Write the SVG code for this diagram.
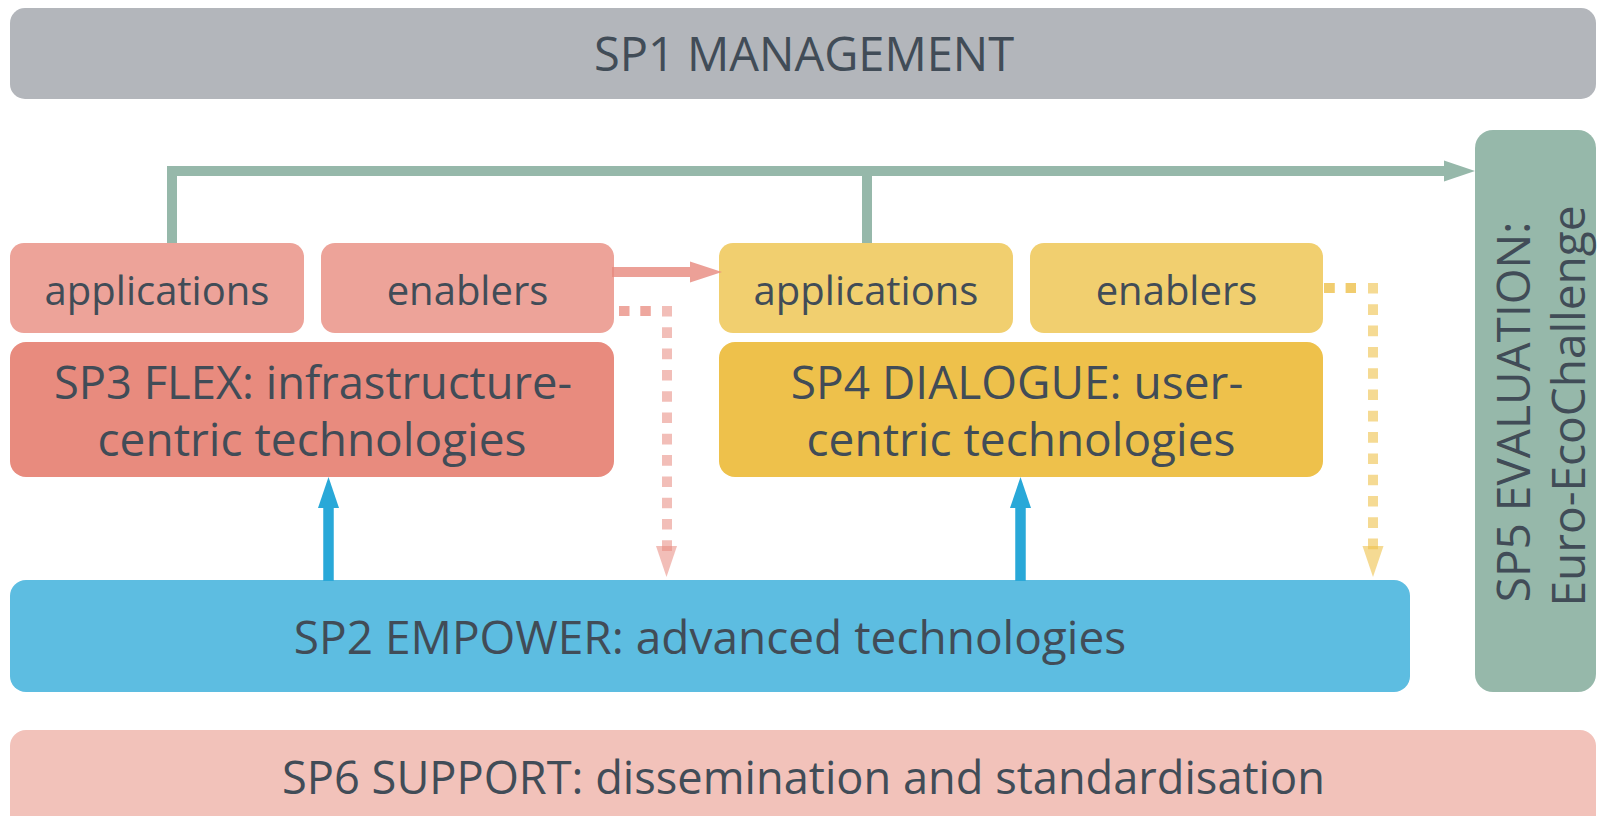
<svg xmlns="http://www.w3.org/2000/svg" width="1597" height="816" viewBox="0 0 1597 816">
<style>
text{font-family:"Open Sans","Noto Sans","DejaVu Sans",sans-serif;fill:#414c57;text-anchor:middle}
.big{font-size:46px}
.lbl{font-size:40px}
.pinkL{fill:#eda399}
.yelL{fill:#f1cf6f}
.green{stroke:#96b8aa;stroke-width:10;fill:none}
.blue{stroke:#29a8d8;stroke-width:10.5;fill:none}
.blueH{fill:#29a8d8}
</style>
<rect width="1597" height="816" fill="#ffffff"/>
<g id="sp1">
<rect x="10" y="8" width="1586" height="91" rx="15" fill="#b3b6bb"/>
<text class="big" x="804" y="71" style="font-size:47px">SP1 MANAGEMENT</text>
</g>
<g id="sp3-applications">
<rect class="pinkL" x="10" y="243" width="294" height="90" rx="14"/>
<text class="lbl" x="157" y="305">applications</text>
</g>
<g id="sp3-enablers">
<rect class="pinkL" x="321" y="243" width="293" height="90" rx="14"/>
<text class="lbl" x="467.5" y="305">enablers</text>
</g>
<g id="sp3">
<rect x="10" y="342" width="604" height="135" rx="16" fill="#e88b7e"/>
<text class="big" x="313" y="399" style="font-size:45.3px">SP3 FLEX: infrastructure-</text>
<text class="big" x="312" y="456">centric technologies</text>
</g>
<g id="sp4-applications">
<rect class="yelL" x="719" y="243" width="294" height="90" rx="14"/>
<text class="lbl" x="866" y="305">applications</text>
</g>
<g id="sp4-enablers">
<rect class="yelL" x="1030" y="243" width="293" height="90" rx="14"/>
<text class="lbl" x="1176.5" y="305">enablers</text>
</g>
<g id="sp4">
<rect x="719" y="342" width="604" height="135" rx="16" fill="#eec14b"/>
<text class="big" x="1017" y="399">SP4 DIALOGUE: user-</text>
<text class="big" x="1021" y="456">centric technologies</text>
</g>
<g id="sp2">
<rect x="10" y="580" width="1400" height="112" rx="16" fill="#5dbde1"/>
<text class="big" x="710" y="654">SP2 EMPOWER: advanced technologies</text>
</g>
<g id="sp5">
<rect x="1475" y="130" width="121" height="562" rx="18" fill="#96b8aa"/>
<text class="big" transform="rotate(-90 1530 412)" x="1530" y="412">SP5 EVALUATION:</text>
<text class="big" transform="rotate(-90 1585 406)" x="1585" y="406">Euro-EcoChallenge</text>
</g>
<g id="sp6">
<rect x="10" y="730" width="1586" height="110" rx="16" fill="#f2c2ba"/>
<text class="big" x="803.5" y="794" style="font-size:45.2px">SP6 SUPPORT: dissemination and standardisation</text>
</g>
<g id="connectors">
<path class="green" d="M172 243 V171 H1446"/>
<path class="green" d="M867 243 V171"/>
<polygon points="1444,160.5 1475,171 1444,181.5" fill="#96b8aa"/>
<g opacity="0.8">
<line x1="612" y1="272" x2="692" y2="272" stroke="#e8897e" stroke-width="10"/>
<polygon points="690,261.5 722,272 690,282.5" fill="#e8897e"/>
</g>
<line x1="619" y1="311" x2="651" y2="311" stroke="#e8897e" stroke-opacity="0.75" stroke-width="10" stroke-dasharray="10.5 10.8"/>
<line x1="667" y1="306" x2="667" y2="551" stroke="#e8897e" stroke-opacity="0.55" stroke-width="10" stroke-dasharray="10.6 10.7"/>
<polygon points="656,546 677,546 666.5,577" fill="#e8897e" fill-opacity="0.55"/>
<line x1="1324" y1="288" x2="1356" y2="288" stroke="#eec14b" stroke-opacity="0.8" stroke-width="10" stroke-dasharray="10.8 10.8"/>
<line x1="1373" y1="283" x2="1373" y2="551" stroke="#eec14b" stroke-opacity="0.6" stroke-width="10" stroke-dasharray="10.6 10.7"/>
<polygon points="1362.5,546 1383.5,546 1373,577" fill="#eec14b" fill-opacity="0.6"/>
<line class="blue" x1="328.5" y1="581" x2="328.5" y2="506"/>
<polygon class="blueH" points="318,508 339,508 328.5,477"/>
<line class="blue" x1="1020.5" y1="581" x2="1020.5" y2="506"/>
<polygon class="blueH" points="1010,508 1031,508 1020.5,477"/>
</g>
</svg>
